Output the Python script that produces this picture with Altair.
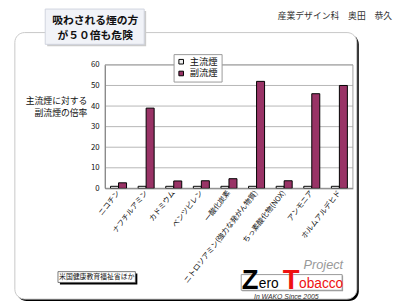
import altair as alt
import pandas as pd

categories = ["ニコチン", "ナフチルアミン", "カドミウム", "ベンツピレン", "一酸化炭素",
              "ニトロソアミン(強力な発がん物質)", "ちっ素酸化物(NOX)", "アンモニア", "ホルムアルデヒド"]
series_names = ["主流煙", "副流煙"]
main_values = [1, 1, 1, 1, 1, 1, 1, 1, 1]
side_values = [2.7, 39, 3.6, 3.7, 4.7, 52, 3.7, 46, 50]
y_ticks = [0, 10, 20, 30, 40, 50, 60]

rows = []
for c, m, s in zip(categories, main_values, side_values):
    rows.append({"cat": c, "series": series_names[0], "value": m})
    rows.append({"cat": c, "series": series_names[1], "value": s})
df = pd.DataFrame(rows)

FONT = "Noto Sans CJK JP"
W, H = 253, 126
OX, OY = 107, 63  # plot origin in page px


def px(v):
    return alt.value(v - OX)


def py(v):
    return alt.value(v - OY)


one = alt.Data(values=[{}])


def rect(x1, y1, x2, y2, **kw):
    return alt.Chart(one).mark_rect(**kw).encode(x=px(x1), x2=px(x2), y=py(y1), y2=py(y2))


def text(t, x, y, font=FONT, **kw):
    return alt.Chart(one).mark_text(text=t, font=font, **kw).encode(x=px(x), y=py(y))


# outer frame with shadow
frame_shadow = rect(17, 32, 366, 304, fill="black", cornerRadius=10)
frame = rect(15, 30, 364, 302, fill="white", stroke="#c8c8c8", strokeWidth=1, cornerRadius=10)

# title box
title_shadow = rect(48, 8, 149, 44, fill="#cccccc")
title_box = rect(46, 6, 147, 42, fill="#f1f3f8", stroke="#d0d4de", strokeWidth=1)
title1 = text("吸わされる煙の方", 97, 18, fontSize=11, fontWeight="bold", color="#111")
title2 = text("が５０倍も危険", 97, 34, fontSize=11, fontWeight="bold", color="#111")

author = text("産業デザイン科　奥田　恭久", 400, 13, fontSize=9, color="#333", align="right")

ytitle1 = text("主流煙に対する", 89, 100, fontSize=9, align="right", color="#111")
ytitle2 = text("副流煙の倍率", 89, 112, fontSize=9, align="right", color="#111")

# source box
src_shadow = rect(61, 276, 140, 287, fill="black")
src_box = rect(59, 274, 138, 285, fill="white", stroke="#555", strokeWidth=0.8)
src_text = text("米国健康教育福祉省ほか", 98.5, 279.5, fontSize=7, color="#111")

# logo
LF = "Liberation Sans"
logo_shadow = rect(247, 278, 350, 294, fill="#999")
logo_box = rect(246, 277, 349, 293, fill="white", stroke="#999", strokeWidth=1)
logo_Z = text("Z", 255, 292, font=LF, fontSize=28, fontWeight="bold", color="black", baseline="alphabetic")
logo_ero = text("ero", 264, 291, font=LF, fontSize=14, color="black", baseline="alphabetic", align="left")
logo_T = text("T", 297, 292, font=LF, fontSize=28, fontWeight="bold", color="#ee1111", baseline="alphabetic")
logo_obacco = text("obacco", 305, 291, font=LF, fontSize=14, color="#ee1111", baseline="alphabetic", align="left")
logo_project = text("Project", 350, 271, font=LF, fontSize=13, fontStyle="italic", color="#999",
                    baseline="alphabetic", align="right")
logo_wako = text("In WAKO Since 2005", 292, 300, font=LF, fontSize=7, fontStyle="italic", color="#333")

# plot area border
plot_border = alt.Chart(one).mark_rect(fill=None, stroke="#a0a0a0", strokeWidth=1).encode(
    x=alt.value(0), x2=alt.value(W), y=alt.value(0), y2=alt.value(H))

yscale = alt.Scale(domain=[0, 60], nice=False)
yaxis = alt.Axis(values=y_ticks, grid=False, ticks=False, labelFont=FONT, labelFontSize=8,
                 labelColor="#111", domainColor="#888", labelPadding=6, zindex=1)

grid = alt.Chart(pd.DataFrame({"t": y_ticks})).mark_rule(color="#b5b5b5", strokeWidth=1).encode(
    y=alt.Y("t:Q", scale=yscale, axis=yaxis, title=None))

bars = alt.Chart(df).mark_bar(stroke="black", strokeWidth=1).encode(
    x=alt.X("cat:N", sort=categories, title=None,
            scale=alt.Scale(paddingInner=0.42, paddingOuter=0.2),
            axis=alt.Axis(labelAngle=-52, labelFont=FONT, labelFontSize=7.5, labelColor="#111",
                          ticks=False, domainColor="#888", labelPadding=3, zindex=1, labelLimit=200)),
    xOffset=alt.XOffset("series:N", sort=series_names),
    y=alt.Y("value:Q", scale=yscale, title=None, axis=yaxis),
    color=alt.Color("series:N", sort=series_names,
                    scale=alt.Scale(domain=series_names, range=["#eeeeee", "#993366"]),
                    legend=alt.Legend(title=None, orient="none", legendX=70, legendY=-11,
                                      strokeColor="#999", fillColor="white", padding=3,
                                      symbolType="square", symbolSize=22, symbolStrokeColor="black",
                                      symbolStrokeWidth=1, labelFont=FONT, labelFontSize=9.5,
                                      rowPadding=1, labelColor="#111")),
)

chart = alt.layer(
    frame_shadow, frame, title_shadow, title_box, title1, title2, author,
    ytitle1, ytitle2, src_shadow, src_box, src_text,
    logo_shadow, logo_box, logo_Z, logo_ero, logo_T, logo_obacco, logo_project, logo_wako,
    grid, plot_border, bars,
).properties(
    width=W, height=H,
    autosize=alt.AutoSizeParams(type="none"),
    padding={"left": 99, "top": 55, "right": 45, "bottom": 118},
).configure_view(stroke=None).configure(background="white")

chart.save("out.html", embed_options={"renderer": "svg", "actions": False})
